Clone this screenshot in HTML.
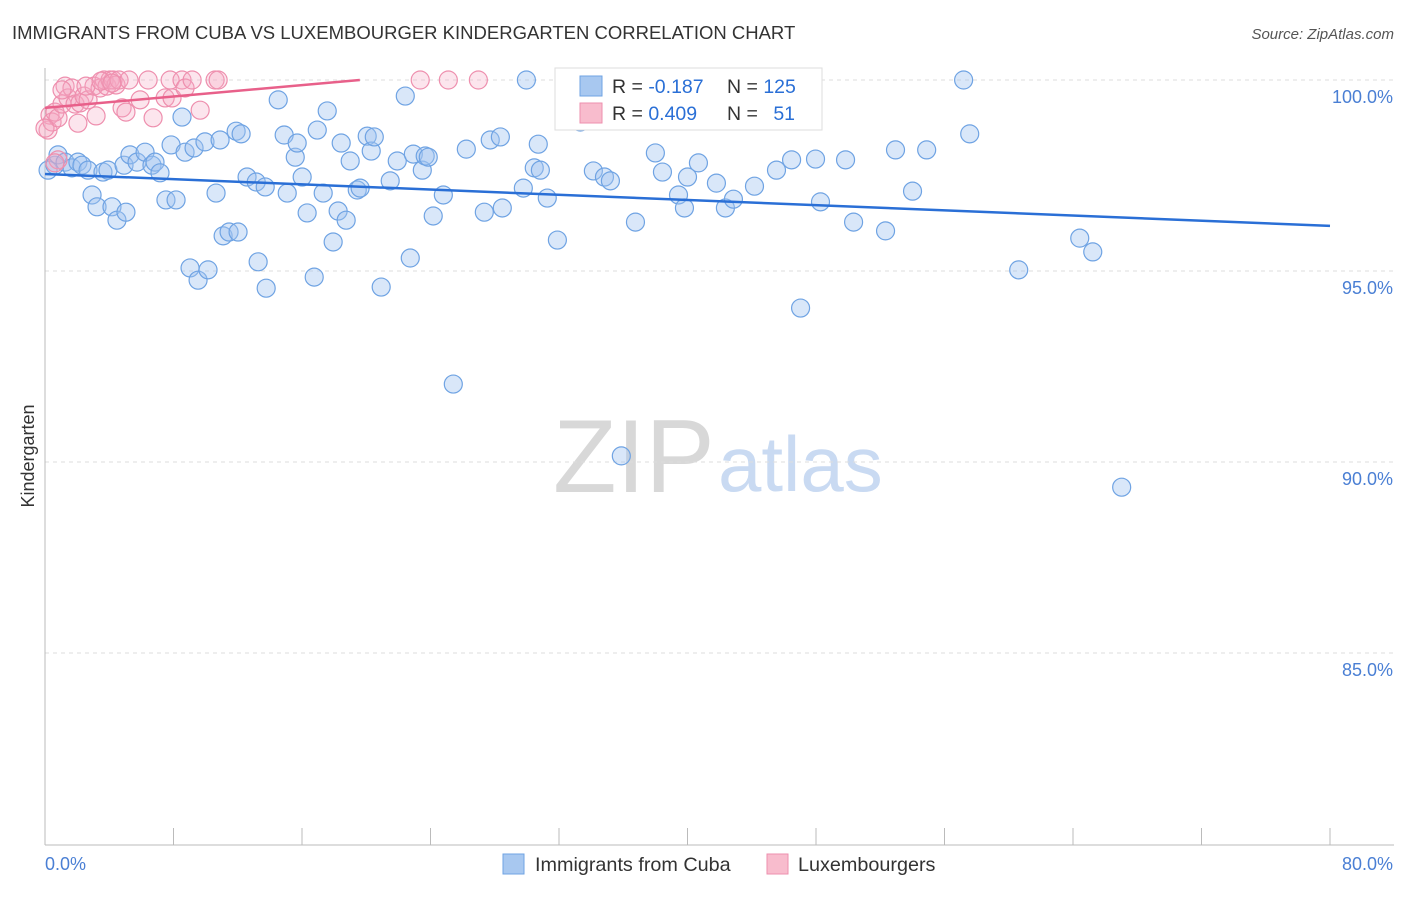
<!DOCTYPE html>
<html><head><meta charset="utf-8"><style>
body{margin:0;background:#fff;font-family:"Liberation Sans",sans-serif}
svg text{font-family:"Liberation Sans",sans-serif}
</style></head><body>
<svg id="c" width="1406" height="892">
<text x="12" y="39" font-size="18.5" fill="#333">IMMIGRANTS FROM CUBA VS LUXEMBOURGER KINDERGARTEN CORRELATION CHART</text>
<text x="1394" y="39" font-size="15" fill="#555" font-style="italic" text-anchor="end">Source: ZipAtlas.com</text>
<text x="553" y="492" font-size="104" fill="#d8d8d8" font-family="Liberation Serif">ZIP</text>
<text x="718" y="491" font-size="78" fill="#c9daf2">atlas</text>
<text transform="translate(34,456) rotate(-90)" font-size="18" fill="#333" text-anchor="middle">Kindergarten</text>
<g id="grid"></g><g id="pts"></g><g id="lines"></g>
<g>
<rect x="555" y="68" width="267" height="62" fill="#fff" stroke="#ddd"/>
<rect x="580" y="76" width="22" height="20" fill="#a8c8f0" stroke="#6fa3e3"/>
<rect x="580" y="103" width="22" height="20" fill="#f8bccd" stroke="#ee8fae"/>
<text x="612" y="93" font-size="19.5" fill="#333">R = <tspan fill="#2a6fd6">-0.187</tspan></text>
<text x="727" y="93" font-size="19.5" fill="#333">N = <tspan fill="#2a6fd6">125</tspan></text>
<text x="612" y="120" font-size="19.5" fill="#333">R = <tspan fill="#2a6fd6">0.409</tspan></text>
<text x="727" y="120" font-size="19.5" fill="#333">N = <tspan fill="#2a6fd6" dx="10">51</tspan></text>
</g>
<g>
<rect x="503" y="854" width="21" height="20" fill="#a8c8f0" stroke="#6fa3e3"/>
<text x="535" y="871" font-size="19.8" fill="#333">Immigrants from Cuba</text>
<rect x="767" y="854" width="21" height="20" fill="#f8bccd" stroke="#ee8fae"/>
<text x="798" y="871" font-size="19.8" fill="#333">Luxembourgers</text>
</g>
<text x="45" y="870" font-size="18" fill="#4a7fd4">0.0%</text>
<text x="1393" y="870" font-size="18" fill="#4a7fd4" text-anchor="end">80.0%</text>
</svg>
<script>
const yTicks=[100,95,90,85];
const xTicks=[0,8,16,24,32,40,48,56,64,72,80];
const blueX=[0.19,0.62,0.81,1.25,1.68,2.05,2.30,2.68,2.93,3.24,3.61,3.92,4.17,4.48,4.92,5.04,5.29,5.73,6.23,6.66,6.85,7.16,7.53,8.16,7.85,8.53,8.72,9.03,9.53,10.15,9.28,9.96,10.65,10.90,11.09,11.46,11.90,12.02,12.21,12.58,13.15,13.27,13.71,13.77,14.52,14.89,15.08,15.58,15.70,16.01,16.32,16.76,16.95,17.32,17.57,17.94,18.25,18.44,18.75,19.00,19.44,19.62,20.06,20.31,20.50,20.93,21.49,21.93,22.43,22.74,22.93,23.49,23.67,23.86,24.17,24.80,25.42,26.23,27.35,27.72,28.35,28.47,29.78,29.97,30.46,30.84,30.71,31.27,31.90,33.33,34.14,34.83,35.20,35.88,36.32,36.76,38.00,38.44,39.44,39.81,40.00,40.68,41.80,42.36,42.86,44.17,45.54,46.48,47.04,47.97,48.28,49.84,50.34,52.33,52.95,54.01,54.89,57.19,57.57,60.62,64.42,65.23,67.03];
const blueY=[97.64,97.77,98.04,97.85,97.70,97.85,97.77,97.64,96.99,96.68,97.59,97.64,96.68,96.33,97.77,96.54,98.04,97.85,98.11,97.77,97.85,97.57,96.86,96.86,98.30,99.03,98.11,95.08,94.76,95.03,98.22,98.38,97.04,98.43,95.92,96.02,98.66,96.02,98.59,97.46,97.33,95.24,97.20,94.55,99.48,98.56,97.04,97.98,98.35,97.46,96.52,94.84,98.69,97.04,99.19,95.76,96.57,98.35,96.33,97.88,97.12,97.17,98.53,98.14,98.51,94.58,97.36,97.88,99.58,95.34,98.06,97.64,98.01,97.98,96.44,96.99,92.04,98.19,96.54,98.43,98.51,96.65,97.17,100.0,97.70,97.64,98.32,96.91,95.81,98.90,97.62,97.46,97.36,90.16,100.0,96.28,98.09,97.59,96.99,96.65,97.46,97.83,97.30,96.65,96.88,97.22,97.64,97.91,94.03,97.93,96.81,97.91,96.28,96.05,98.17,97.09,98.17,100.0,98.59,95.03,95.86,95.50,89.34];
const pinkX=[0.19,0.31,0.44,0.62,0.81,1.06,1.25,1.43,1.68,1.87,2.05,2.18,2.43,2.68,3.05,3.18,3.43,3.68,3.86,4.05,4.24,4.42,4.61,4.80,5.04,5.23,5.92,6.42,6.73,7.48,7.79,7.91,8.53,8.72,9.16,9.66,10.59,10.78,23.36,25.11,26.98,0.81,0.62,1.06,2.55,3.49,4.17,0];
const pinkY=[98.69,99.08,98.90,99.16,99.01,99.37,99.84,99.53,99.79,99.37,98.87,99.40,99.58,99.48,99.84,99.06,99.79,100,99.84,100,100,99.87,100,99.27,99.16,100,99.48,100,99.01,99.53,100,99.53,100,99.79,100,99.21,100,100,100,100,100,97.91,97.83,99.74,99.84,99.97,99.92,98.74];
const blueTrend=[[0,97.54],[80,96.18]];
const pinkTrend=[[0,99.27],[19.6,100]];
const X=v=>45+v/80*1285, Y=v=>80+(100-v)*38.2;
const NS='http://www.w3.org/2000/svg';
function mk(t,a,p){const e=document.createElementNS(NS,t);for(const k in a)e.setAttribute(k,a[k]);p.appendChild(e);return e;}
const g=document.getElementById('grid');
yTicks.forEach(v=>{
 const l=mk('line',{x1:45,x2:1394,y1:Y(v),y2:Y(v),stroke:'#ddd','stroke-dasharray':'4,4'},g);
 
 
 const t=mk('text',{x:1393,y:Y(v)+23,'font-size':18,fill:'#4a7fd4','text-anchor':'end'},g);
 t.textContent=v.toFixed(1)+'%';
 
 
});
mk('line',{x1:45,x2:45,y1:68,y2:845,stroke:'#bbb'},g);
mk('line',{x1:45,x2:1394,y1:845,y2:845,stroke:'#bbb'},g);
xTicks.forEach(v=>{
 const l=mk('line',{x1:X(v),x2:X(v),y1:828,y2:845,stroke:'#bbb'},g);
 
 
});
const p=document.getElementById('pts');
blueX.forEach((x,i)=>{
 const c=mk('circle',{cx:X(x),cy:Y(blueY[i]),r:9,fill:'rgba(160,196,240,0.4)',stroke:'#6fa3e3','stroke-width':1.2},p);
 
 
});
pinkX.forEach((x,i)=>{
 const c=mk('circle',{cx:X(x),cy:Y(pinkY[i]),r:9,fill:'rgba(245,170,195,0.3)',stroke:'#ee8fae','stroke-width':1.2},p);
 
 
});
const L=document.getElementById('lines');
const bl=mk('line',{x1:X(blueTrend[0][0]),y1:Y(blueTrend[0][1]),x2:X(blueTrend[1][0]),y2:Y(blueTrend[1][1]),stroke:'#2a6fd6','stroke-width':2.5},L);


const pl=mk('line',{x1:X(pinkTrend[0][0]),y1:Y(pinkTrend[0][1]),x2:X(pinkTrend[1][0]),y2:Y(pinkTrend[1][1]),stroke:'#e8608a','stroke-width':2.5},L);


</script>
</body></html>
